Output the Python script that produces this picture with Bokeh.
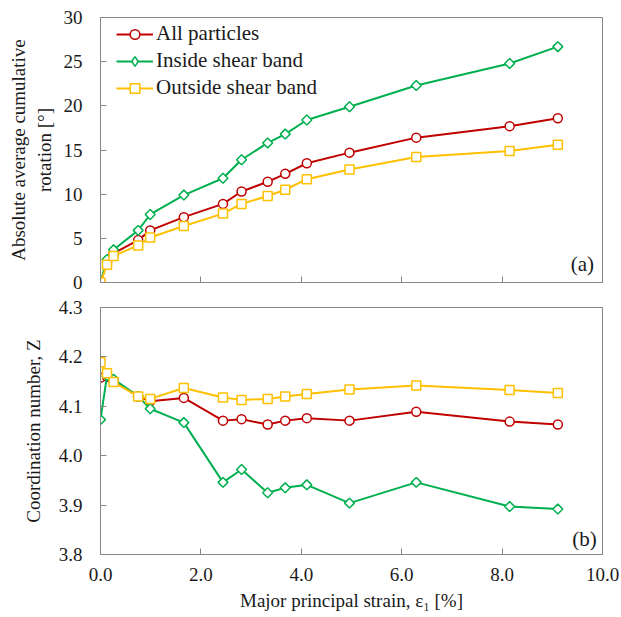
import numpy as np
from bokeh.plotting import figure
from bokeh.layouts import column
from bokeh.models import Range1d, FixedTicker, NumeralTickFormatter, Label, Legend, LegendItem
from bokeh.embed import file_html
from bokeh.resources import INLINE

# ---------------- data ----------------
strain = [0, 0.13, 0.26, 0.75, 0.99, 1.66, 2.44, 2.81, 3.33, 3.68, 4.11, 4.96, 6.29, 8.15, 9.11]

rot_all = [0, 2.3, 3.3, 4.8, 5.9, 7.4, 8.9, 10.3, 11.4, 12.3, 13.5, 14.7, 16.4, 17.7, 18.6]
rot_in = [0, 2.6, 3.7, 5.9, 7.7, 9.9, 11.8, 13.9, 15.8, 16.8, 18.4, 19.9, 22.3, 24.8, 26.7]
rot_out = [0, 2.0, 3.0, 4.2, 5.1, 6.4, 7.8, 8.9, 9.8, 10.5, 11.7, 12.8, 14.2, 14.9, 15.6]

z_all = [4.158, 4.160, 4.152, 4.120, 4.110, 4.117, 4.071, 4.074, 4.063, 4.071, 4.076, 4.071, 4.089, 4.069, 4.063]
z_in = [4.073, 4.162, 4.155, 4.120, 4.095, 4.067, 3.946, 3.972, 3.925, 3.935, 3.941, 3.904, 3.946, 3.897, 3.892]
z_out = [4.189, 4.167, 4.149, 4.120, 4.115, 4.137, 4.118, 4.113, 4.115, 4.120, 4.125, 4.134, 4.142, 4.133, 4.127]

series_names = ["All particles", "Inside shear band", "Outside shear band"]
x_ticks = [0, 2, 4, 6, 8, 10]
rot_ticks = [0, 5, 10, 15, 20, 25, 30]
z_ticks = [3.8, 3.9, 4.0, 4.1, 4.2, 4.3]

FONT = "Liberation Serif"
RED = "#C00000"
GREEN = "#00B050"
GOLD = "#FFC000"
GRAY = "#868686"
TXT = "#1a1a1a"


def style(p):
    p.outline_line_color = GRAY
    p.outline_line_width = 1
    p.grid.visible = False
    p.background_fill_color = "white"
    p.border_fill_color = "white"
    for ax in p.axis:
        ax.axis_line_color = GRAY
        ax.major_tick_line_color = GRAY
        ax.major_tick_in = 6
        ax.major_tick_out = 0
        ax.minor_tick_line_color = None
        ax.major_label_text_font = FONT
        ax.major_label_text_font_size = "19px"
        ax.major_label_text_color = TXT
        ax.axis_label_text_font = FONT
        ax.axis_label_text_font_size = "19px"
        ax.axis_label_text_font_style = "normal"
        ax.axis_label_text_color = TXT


def add_series(p, ys):
    specs = [(ys[0], RED, "circle", 9, 0, "circle", 9),
             (ys[1], GREEN, "square", 7, np.pi / 4, "diamond", 12),
             (ys[2], GOLD, "square", 9, 0, "square", 9)]
    items = []
    for (y, c, m, s, a, lm, ls), name in zip(specs, series_names):
        rl = p.line(strain, y, line_color=c, line_width=2)
        p.scatter(strain, y, marker=m, size=s, angle=a, fill_color="white", line_color=c, line_width=1.5)
        # legend-only marker (no visible points)
        rleg = p.scatter([np.nan], [np.nan], marker=lm, size=ls, fill_color="white", line_color=c, line_width=1.5)
        items.append(LegendItem(label=name, renderers=[rl, rleg]))
    return items


# ---------------- top panel ----------------
p1 = figure(width=621, height=295, x_range=Range1d(0, 10), y_range=Range1d(0, 30),
            output_backend="svg", toolbar_location=None,
            min_border_left=100, min_border_right=19, min_border_top=17, min_border_bottom=13)
items = add_series(p1, [rot_all, rot_in, rot_out])
style(p1)
p1.xaxis.ticker = FixedTicker(ticks=x_ticks)
p1.xaxis.major_label_text_font_size = "0px"
p1.xaxis.major_label_standoff = 0
p1.yaxis.ticker = FixedTicker(ticks=rot_ticks)
p1.yaxis.major_label_standoff = 18
p1.yaxis.axis_label = "Absolute average cumulative\nrotation [°]"
p1.yaxis.axis_label_standoff = 6

legend = Legend(items=items, location=(16, 182), glyph_width=37, glyph_height=24,
                label_standoff=3, spacing=2, padding=4, margin=0,
                background_fill_alpha=0, border_line_color=None,
                label_text_font=FONT, label_text_font_size="21px", label_text_color=TXT)
p1.add_layout(legend, "center")
p1.add_layout(Label(x=9.6, y=2.15, text="(a)", text_font=FONT, text_font_size="21px",
                    text_align="center", text_baseline="middle", text_color=TXT))

# ---------------- bottom panel ----------------
p2 = figure(width=621, height=322, x_range=Range1d(0, 10), y_range=Range1d(3.8, 4.3),
            output_backend="svg", toolbar_location=None,
            min_border_left=100, min_border_right=19, min_border_top=12, min_border_bottom=63)
add_series(p2, [z_all, z_in, z_out])
style(p2)
p2.xaxis.ticker = FixedTicker(ticks=x_ticks)
p2.xaxis.formatter = NumeralTickFormatter(format="0.0")
p2.xaxis.major_label_standoff = 13
p2.xaxis.axis_label = "Major principal strain, ε₁ [%]"
p2.xaxis.axis_label_standoff = 6
p2.yaxis.ticker = FixedTicker(ticks=z_ticks)
p2.yaxis.formatter = NumeralTickFormatter(format="0.0")
p2.yaxis.major_label_standoff = 18
p2.yaxis.axis_label = "Coordination number, Z"
p2.yaxis.axis_label_standoff = 12
p2.add_layout(Label(x=9.64, y=3.832, text="(b)", text_font=FONT, text_font_size="21px",
                    text_align="center", text_baseline="middle", text_color=TXT))

layout = column(p1, p2, spacing=0)
open("out.html", "w").write(file_html(layout, INLINE))
